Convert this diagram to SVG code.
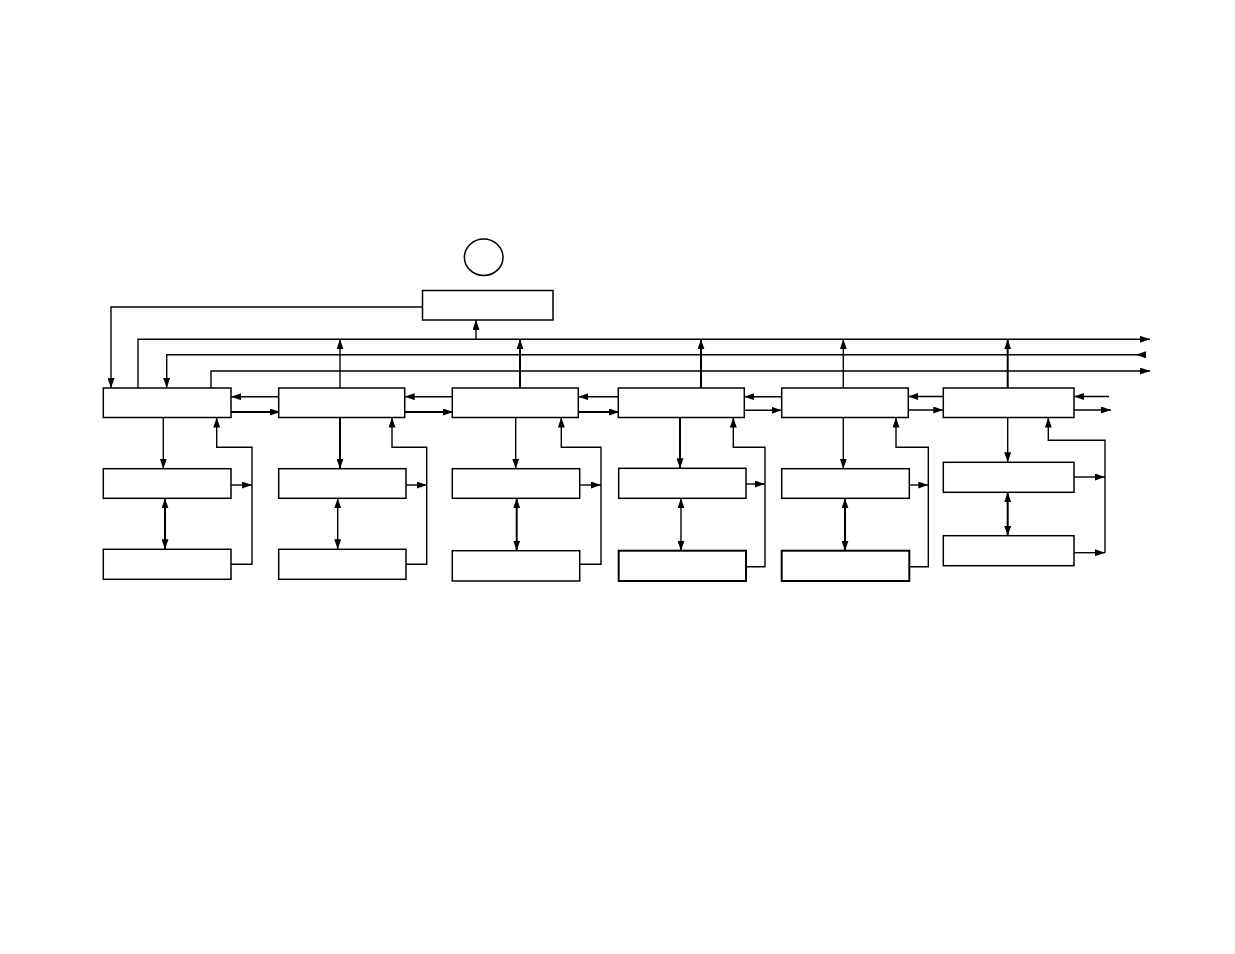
<svg xmlns="http://www.w3.org/2000/svg" width="1235" height="954" viewBox="0 0 1235 954">
<style>
.box{fill:#fff;stroke:#000;stroke-width:1.5}
.boxb{fill:#fff;stroke:#000;stroke-width:2}
.ln{fill:none;stroke:#000;stroke-width:1.4}
.lt{fill:none;stroke:#000;stroke-width:2}
.a{marker-end:url(#ah)}
.d{marker-start:url(#ah);marker-end:url(#ah)}
</style>
<defs>
<marker id="ah" viewBox="0 0 10 7" refX="10" refY="3.5" markerWidth="10" markerHeight="7" markerUnits="userSpaceOnUse" orient="auto-start-reverse">
<path d="M0,0 L10,3.5 L0,7 z" fill="#000"/>
</marker>
</defs>
<rect width="1235" height="954" fill="#fff"/>
<g id="connectors">
<path class="ln a" d="M422.5,307 H111 V388"/>
<path class="ln a" d="M138,388 V339.3 H1150"/>
<path class="ln a" d="M1146,354.7 H166.7 V388"/>
<polygon points="1136,354.7 1146,351.2 1146,358.2" fill="#000"/>
<path class="ln a" d="M211,388 V371 H1150"/>
<path class="ln a" d="M476,339.3 V320"/>
<path class="ln a" d="M340,388 V339.3"/>
<path class="lt a" d="M520,388 V339.3"/>
<path class="lt a" d="M701,388 V339.3"/>
<path class="ln a" d="M843.3,388 V339.3"/>
<path class="lt a" d="M1007.7,388 V339.3"/>
<path class="ln a" d="M278.7,396.7 H231"/>
<path class="lt a" d="M231,412 H280"/>
<path class="ln a" d="M452.3,396.7 H404.7"/>
<path class="lt a" d="M404.7,412 H453"/>
<path class="ln a" d="M618.3,396.7 H578.3"/>
<path class="lt a" d="M578.3,412 H619"/>
<path class="ln a" d="M781.7,396.7 H744.3"/>
<path class="ln a" d="M744.3,410.3 H781.7"/>
<path class="ln a" d="M943.3,396.5 H908.3"/>
<path class="ln a" d="M908.3,410 H943.3"/>
<path class="ln a" d="M1109,396.5 H1074"/>
<path class="ln a" d="M1074,410 H1111"/>
<path class="ln a" d="M163.3,417.5 V468.7"/>
<path class="lt a" d="M340,417.5 V468.7"/>
<path class="ln a" d="M515.7,417.5 V468.7"/>
<path class="lt a" d="M680,417.5 V468.3"/>
<path class="ln a" d="M843.3,417.5 V468.7"/>
<path class="ln a" d="M1007.7,417.5 V462.3"/>
<path class="lt d" d="M165,498.3 V549.3"/>
<path class="ln d" d="M337.7,498.3 V549.3"/>
<path class="lt d" d="M516.7,498.3 V550.7"/>
<path class="ln d" d="M681,498.3 V550.7"/>
<path class="lt d" d="M845,498.3 V550.7"/>
<path class="lt d" d="M1007.7,492.3 V535.7"/>
<path class="ln a" d="M231,564.3 H252 V447.3 H216.7 V417.5"/>
<path class="ln a" d="M231,485 H252"/>
<path class="ln a" d="M406,564.3 H426.7 V447.3 H392 V417.5"/>
<path class="ln a" d="M406,485 H426.7"/>
<path class="ln a" d="M579.7,564.3 H601 V447.3 H561.3 V417.5"/>
<path class="ln a" d="M579.7,485 H601"/>
<path class="ln a" d="M746,566.7 H765 V447.3 H733.3 V417.5"/>
<path class="ln a" d="M746,484 H765"/>
<path class="ln a" d="M909.3,566.7 H928.3 V447.3 H896 V417.5"/>
<path class="ln a" d="M909.3,485 H928.3"/>
<path class="ln a" d="M1105,552.7 V440.3 H1048.3 V417.5"/>
<path class="ln a" d="M1074,477 H1105"/>
<path class="ln a" d="M1074,552.7 H1105"/>
</g>
<g id="circle"><ellipse cx="483.7" cy="257.3" rx="19.3" ry="18.2" fill="#fff" stroke="#000" stroke-width="1.5"/></g>
<g id="top"><rect class="box" x="422.5" y="290.5" width="130.5" height="29.5"/></g>
<g id="r1c1"><rect class="box" x="103.3" y="388" width="127.7" height="29.5"/></g>
<g id="r1c2"><rect class="box" x="278.7" y="388" width="126" height="29.5"/></g>
<g id="r1c3"><rect class="box" x="452.3" y="388" width="126" height="29.5"/></g>
<g id="r1c4"><rect class="box" x="618.3" y="388" width="126" height="29.5"/></g>
<g id="r1c5"><rect class="box" x="781.7" y="388" width="126.6" height="29.5"/></g>
<g id="r1c6"><rect class="box" x="943.3" y="388" width="130.7" height="29.5"/></g>
<g id="r2c1"><rect class="box" x="103.3" y="468.7" width="127.7" height="29.6"/></g>
<g id="r2c2"><rect class="box" x="278.7" y="468.7" width="127.3" height="29.6"/></g>
<g id="r2c3"><rect class="box" x="452.3" y="468.7" width="127.4" height="29.6"/></g>
<g id="r2c4"><rect class="box" x="618.7" y="468.3" width="127.3" height="30"/></g>
<g id="r2c5"><rect class="box" x="781.7" y="468.7" width="127.6" height="29.6"/></g>
<g id="r2c6"><rect class="box" x="943.3" y="462.3" width="130.7" height="30"/></g>
<g id="r3c1"><rect class="box" x="103.3" y="549.3" width="127.7" height="30"/></g>
<g id="r3c2"><rect class="box" x="278.7" y="549.3" width="127.3" height="30"/></g>
<g id="r3c3"><rect class="box" x="452.3" y="550.7" width="127.4" height="30.3"/></g>
<g id="r3c4"><rect class="boxb" x="618.7" y="550.7" width="127.3" height="30.3"/></g>
<g id="r3c5"><rect class="boxb" x="781.7" y="550.7" width="127.6" height="30.3"/></g>
<g id="r3c6"><rect class="box" x="943.3" y="535.7" width="130.7" height="30"/></g>
</svg>
